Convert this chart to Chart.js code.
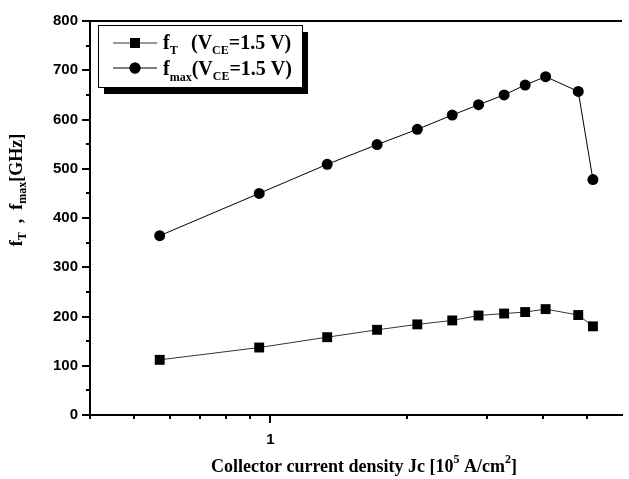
<!DOCTYPE html>
<html>
<head>
<meta charset="utf-8">
<script src="https://cdn.jsdelivr.net/npm/chart.js@4.4.1/dist/chart.umd.min.js"></script>
<style>
  html, body { margin: 0; padding: 0; background: #fff; overflow: hidden; }
  #chart { display: block; }
</style>
</head>
<body>
<canvas id="chart" width="629" height="479"></canvas>
<script>
// collector current density Jc [10^5 A/cm^2]
const jc = [0.57, 0.945, 1.335, 1.72, 2.11, 2.52, 2.88, 3.28, 3.65, 4.05, 4.78, 5.15];
// fT and fmax at VCE = 1.5 V [GHz]
const fT = [112, 137, 158, 173, 184, 192, 202, 206, 209, 215, 203, 180];
const fmax = [364, 450, 509, 549, 580, 609, 630, 650, 670, 687, 657, 478];

const xTickValues = [0.4, 0.5, 0.6, 0.7, 0.8, 0.9, 1, 2, 3, 4, 5];
const xTickLabels = { 1: '1' };
const yMajorTicks = [0, 100, 200, 300, 400, 500, 600, 700, 800];
const yMinorTicks = [50, 150, 250, 350, 450, 550, 650, 750];

const serif = '"Liberation Serif", "Times New Roman", serif';
const sans = '"Liberation Sans", Arial, sans-serif';

const toPoints = (xs, ys) => xs.map((x, i) => ({ x: x, y: ys[i] }));

// draws a run of text pieces (normal / sub / superscript), returns end x
function drawRich(ctx, parts, x, y) {
    parts.forEach(p => {
        if (p.at !== undefined) x = p.at;
        ctx.font = 'bold ' + p.size + 'px ' + serif;
        ctx.fillText(p.t, x, y + (p.dy || 0));
        x += ctx.measureText(p.t).width;
    });
    return x;
}
function richWidth(ctx, parts) {
    let w = 0;
    parts.forEach(p => {
        ctx.font = 'bold ' + p.size + 'px ' + serif;
        w += ctx.measureText(p.t).width;
    });
    return w;
}

const decorations = {
    id: 'decorations',
    afterDraw(chart) {
        const { ctx, chartArea: a, scales: { x, y } } = chart;
        ctx.save();
        ctx.strokeStyle = '#000';
        ctx.fillStyle = '#000';
        ctx.lineWidth = 2;

        // top frame line
        ctx.beginPath();
        ctx.moveTo(a.left - 1, a.top);
        ctx.lineTo(a.right, a.top);
        ctx.stroke();

        // y ticks, outward
        ctx.beginPath();
        yMajorTicks.forEach(v => {
            const p = Math.round(y.getPixelForValue(v));
            ctx.moveTo(a.left - 8, p); ctx.lineTo(a.left, p);
        });
        yMinorTicks.forEach(v => {
            const p = Math.round(y.getPixelForValue(v));
            ctx.moveTo(a.left - 4, p); ctx.lineTo(a.left, p);
        });
        // x ticks, outward
        xTickValues.forEach(v => {
            const p = Math.round(x.getPixelForValue(v));
            const len = xTickLabels[v] ? 8 : 4;
            ctx.moveTo(p, a.bottom); ctx.lineTo(p, a.bottom + len);
        });
        ctx.stroke();

        // legend box with shadow
        const lx = 98, ly = 25, lw = 204, lh = 62;
        ctx.fillRect(lx + 6, ly + 7, lw, lh);
        ctx.fillStyle = '#fff';
        ctx.fillRect(lx, ly, lw, lh);
        ctx.lineWidth = 1;
        ctx.strokeRect(lx + 0.5, ly + 0.5, lw, lh);

        const rows = [
            { ds: chart.data.datasets[0], cy: 43, base: 49,
              parts: [{ t: 'f', size: 20 }, { t: 'T', size: 12, dy: 5 },
                      { t: '(V', size: 20, at: 191 }, { t: 'CE', size: 12, dy: 5 }, { t: '=1.5 V)', size: 20 }] },
            { ds: chart.data.datasets[1], cy: 68, base: 75,
              parts: [{ t: 'f', size: 20 }, { t: 'max', size: 12, dy: 6 },
                      { t: '(V', size: 20 }, { t: 'CE', size: 12, dy: 5 }, { t: '=1.5 V)', size: 20 }] }
        ];
        rows.forEach(r => {
            ctx.strokeStyle = r.ds.borderColor;
            ctx.lineWidth = 1;
            ctx.beginPath();
            ctx.moveTo(113, r.cy); ctx.lineTo(157, r.cy);
            ctx.stroke();
            ctx.fillStyle = '#000';
            Chart.helpers.drawPoint(ctx, {
                pointStyle: r.ds.pointStyle, radius: r.ds.pointRadius,
                borderWidth: 0, rotation: 0
            }, 135, r.cy);
            ctx.fill();
            ctx.fillStyle = '#000';
            ctx.textBaseline = 'alphabetic';
            ctx.textAlign = 'left';
            drawRich(ctx, r.parts, 163, r.base);
        });

        // x axis title
        const xParts = [{ t: 'Collector current density Jc [10', size: 18 },
                        { t: '5', size: 12, dy: -9 },
                        { t: ' A/cm', size: 18 }, { t: '2', size: 12, dy: -9 }, { t: ']', size: 18 }];
        const xw = richWidth(ctx, xParts);
        drawRich(ctx, xParts, 364 - xw / 2, 472);

        // y axis title, rotated
        const yParts = [{ t: 'f', size: 18 }, { t: 'T', size: 12, dy: 4 },
                        { t: '  ,  f', size: 18 }, { t: 'max', size: 12, dy: 4 }, { t: '[GHz]', size: 18 }];
        const yw = richWidth(ctx, yParts);
        ctx.translate(22, 190);
        ctx.rotate(-Math.PI / 2);
        drawRich(ctx, yParts, -yw / 2, 0);
        ctx.restore();
    }
};

new Chart(document.getElementById('chart'), {
    type: 'line',
    data: {
        datasets: [{
            label: 'fT (VCE=1.5 V)',
            data: toPoints(jc, fT),
            borderColor: '#333',
            borderWidth: 1,
            backgroundColor: '#000',
            pointStyle: 'rect',
            pointRadius: 7,
            pointBorderWidth: 0,
            tension: 0
        }, {
            label: 'fmax(VCE=1.5 V)',
            data: toPoints(jc, fmax),
            borderColor: '#000',
            borderWidth: 1,
            backgroundColor: '#000',
            pointStyle: 'circle',
            pointRadius: 5.5,
            pointBorderWidth: 0,
            tension: 0
        }]
    },
    options: {
        responsive: false,
        animation: false,
        layout: { padding: { top: 13, left: 0, right: 0, bottom: 0 } },
        plugins: { legend: { display: false }, tooltip: { enabled: false } },
        scales: {
            x: {
                type: 'logarithmic',
                min: 0.4,
                max: 5.97,
                afterBuildTicks: s => { s.ticks = xTickValues.map(v => ({ value: v })); },
                afterFit: s => { s.height = 64; },
                grid: { display: false, drawTicks: false },
                border: { display: true, color: '#000', width: 2 },
                ticks: {
                    autoSkip: false,
                    maxRotation: 0,
                    padding: 16,
                    color: '#000',
                    font: { family: sans, size: 15, weight: 'bold' },
                    callback: v => xTickLabels[v] || ''
                }
            },
            y: {
                min: 0,
                max: 800,
                afterFit: s => { s.width = 90; },
                grid: { display: false, drawTicks: false },
                border: { display: true, color: '#000', width: 2 },
                ticks: {
                    stepSize: 100,
                    padding: 12,
                    color: '#000',
                    font: { family: sans, size: 15, weight: 'bold' }
                }
            }
        }
    },
    plugins: [decorations]
});
</script>
</body>
</html>
